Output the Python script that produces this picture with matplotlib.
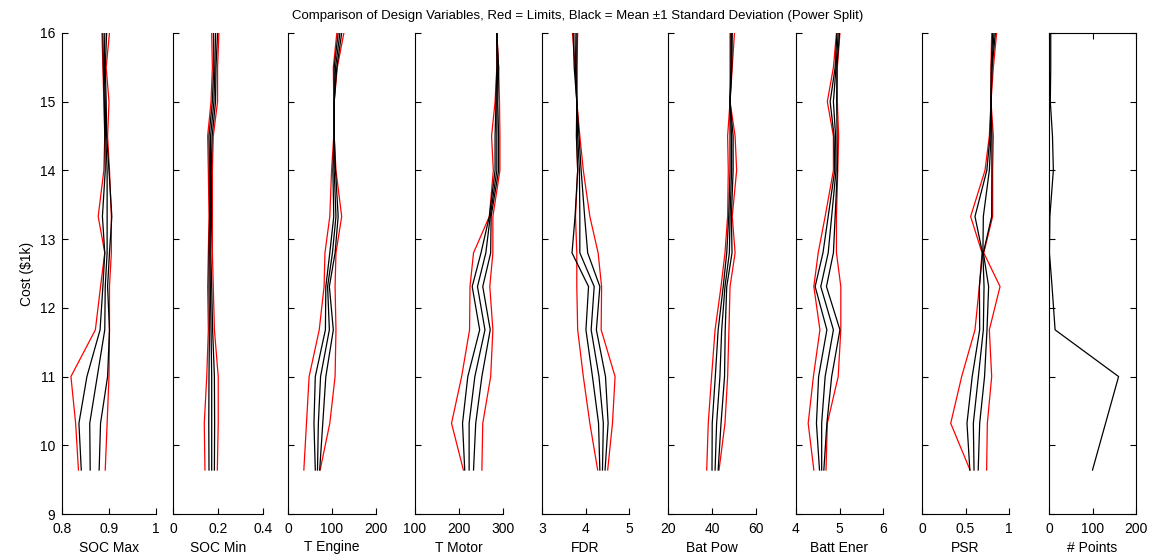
import matplotlib.pyplot as plt

plt.rcParams['font.family'] = ['Liberation Sans', 'DejaVu Sans']

# cost bins (in $1k), shared y axis
cost = [9.64, 10.32, 11.0, 11.68, 12.31, 12.8, 13.33, 14.0, 14.5, 15.0, 15.5, 16.0]

# SOC Max
soc_max_min = [0.835, 0.829, 0.819, 0.871, 0.882, 0.891, 0.877, 0.889, 0.891, 0.889, 0.887, 0.885]
soc_max_mean = [0.860, 0.859, 0.875, 0.891, 0.892, 0.896, 0.896, 0.896, 0.893, 0.892, 0.890, 0.891]
soc_max_std = [0.019, 0.023, 0.022, 0.010, 0.005, 0.005, 0.010, 0.004, 0.002, 0.002, 0.002, 0.004]
soc_max_max = [0.892, 0.896, 0.900, 0.901, 0.901, 0.905, 0.905, 0.901, 0.897, 0.900, 0.894, 0.901]

# SOC Min
soc_min_min = [0.142, 0.139, 0.150, 0.157, 0.154, 0.157, 0.160, 0.157, 0.154, 0.169, 0.175, 0.172]
soc_min_mean = [0.172, 0.172, 0.172, 0.169, 0.166, 0.164, 0.167, 0.166, 0.167, 0.182, 0.186, 0.189]
soc_min_std = [0.012, 0.013, 0.012, 0.007, 0.006, 0.004, 0.004, 0.004, 0.007, 0.007, 0.005, 0.009]
soc_min_max = [0.197, 0.201, 0.201, 0.184, 0.179, 0.175, 0.175, 0.175, 0.179, 0.198, 0.198, 0.204]

# T Engine
t_eng_min = [36, 42, 48, 71, 82, 84, 95, 99, 104, 104, 103, 111]
t_eng_mean = [67, 69, 74, 94, 90, 101, 109, 105, 105, 105, 108, 118]
t_eng_std = [5, 10, 12, 9, 4, 6, 5, 3, 0, 0, 3, 4]
t_eng_max = [73, 95, 107, 109, 107, 109, 122, 109, 105, 105, 112, 127]

# T Motor
t_mot_min = [210, 183, 206, 224, 225, 233, 269, 278, 274, 282, 286, 286]
t_mot_mean = [223, 223, 236, 259, 242, 261, 271, 286, 286, 286, 288, 286]
t_mot_std = [10, 15, 16, 12, 12, 11, 2, 4, 4, 2, 2, 0]
t_mot_max = [252, 254, 272, 277, 270, 277, 277, 293, 293, 292, 290, 286]

# FDR
fdr_min = [4.28, 4.10, 3.95, 3.82, 3.80, 3.80, 3.77, 3.82, 3.80, 3.80, 3.76, 3.70]
fdr_mean = [4.39, 4.41, 4.31, 4.13, 4.20, 3.87, 3.87, 3.86, 3.82, 3.80, 3.77, 3.76]
fdr_std = [0.06, 0.11, 0.15, 0.12, 0.13, 0.18, 0.11, 0.04, 0.03, 0.0, 0.03, 0.04]
fdr_max = [4.51, 4.62, 4.68, 4.36, 4.37, 4.29, 4.10, 3.95, 3.87, 3.80, 3.80, 3.82]

# Bat Pow
bat_pow_min = [37.6, 38.3, 39.8, 41.4, 44.1, 45.9, 47.1, 47.4, 47.1, 48.2, 48.2, 48.2]
bat_pow_mean = [41.4, 42.1, 43.6, 44.4, 45.9, 47.9, 48.2, 48.9, 48.9, 48.2, 48.8, 48.9]
bat_pow_std = [1.4, 2.0, 2.1, 1.6, 0.8, 1.2, 0.6, 0.7, 0.7, 0.0, 0.2, 0.3]
bat_pow_max = [43.2, 45.9, 47.1, 47.7, 48.2, 50.5, 49.2, 51.2, 50.5, 48.2, 49.2, 50.2]

# Batt Ener
bat_ener_min = [4.41, 4.28, 4.40, 4.55, 4.41, 4.51, 4.67, 4.86, 4.86, 4.72, 4.86, 4.93]
bat_ener_mean = [4.59, 4.59, 4.67, 4.86, 4.57, 4.74, 4.82, 4.92, 4.91, 4.86, 4.92, 4.97]
bat_ener_std = [0.05, 0.12, 0.15, 0.15, 0.13, 0.12, 0.08, 0.03, 0.035, 0.075, 0.02, 0.03]
bat_ener_max = [4.69, 4.72, 4.97, 5.03, 5.03, 4.93, 4.93, 4.96, 4.98, 4.95, 4.95, 5.01]

# PSR
psr_min = [0.552, 0.330, 0.456, 0.609, 0.659, 0.690, 0.559, 0.724, 0.774, 0.793, 0.793, 0.801]
psr_mean = [0.598, 0.590, 0.648, 0.705, 0.713, 0.700, 0.705, 0.774, 0.793, 0.793, 0.801, 0.828]
psr_std = [0.048, 0.073, 0.071, 0.042, 0.053, 0.005, 0.096, 0.029, 0.011, 0.0, 0.005, 0.015]
psr_max = [0.743, 0.751, 0.801, 0.774, 0.897, 0.710, 0.812, 0.812, 0.820, 0.793, 0.820, 0.858]

# number of designs in each cost bin
n_points = [100, 130, 160, 14, 7, 1, 2, 10, 8, 3, 4, 4]

names = ["SOC Max", "SOC Min", "T Engine", "T Motor", "FDR", "Bat Pow", "Batt Ener", "PSR"]
mins = [soc_max_min, soc_min_min, t_eng_min, t_mot_min, fdr_min, bat_pow_min, bat_ener_min, psr_min]
means = [soc_max_mean, soc_min_mean, t_eng_mean, t_mot_mean, fdr_mean, bat_pow_mean, bat_ener_mean, psr_mean]
stds = [soc_max_std, soc_min_std, t_eng_std, t_mot_std, fdr_std, bat_pow_std, bat_ener_std, psr_std]
maxs = [soc_max_max, soc_min_max, t_eng_max, t_mot_max, fdr_max, bat_pow_max, bat_ener_max, psr_max]
xticks = [[0.8, 0.9, 1], [0, 0.2, 0.4], [0, 100, 200], [100, 200, 300],
          [3, 4, 5], [20, 40, 60], [4, 5, 6], [0, 0.5, 1], [0, 100, 200]]
xtick_labels = [["0.8", "0.9", "1"], ["0", "0.2", "0.4"], ["0", "100", "200"],
                ["100", "200", "300"], ["3", "4", "5"], ["20", "40", "60"],
                ["4", "5", "6"], ["0", "0.5", "1"], ["0", "100", "200"]]
y_ticks = [9, 10, 11, 12, 13, 14, 15, 16]

W, H = 1156, 560
fig = plt.figure(figsize=(W / 100, H / 100), dpi=100)

# panel edges in pixels
lefts = [62, 173, 288, 415, 542, 668, 796, 922, 1049]
rights = [156, 263, 376, 503, 629, 756, 883, 1009, 1136]
top_px, bot_px = 33, 514

axes = []
for i in range(9):
    ax = fig.add_axes([lefts[i] / W, (H - bot_px) / H,
                       (rights[i] - lefts[i]) / W, (bot_px - top_px) / H])
    axes.append(ax)

for i, ax in enumerate(axes):
    ax.set_ylim(9, 16)
    ax.set_xlim(xticks[i][0], xticks[i][-1])
    ax.set_xticks(xticks[i])
    ax.set_xticklabels(xtick_labels[i])
    ax.set_yticks(y_ticks)
    ax.tick_params(direction="in", length=4, width=0.8, labelsize=10)
    ax.tick_params(axis="x", pad=6)
    ax.tick_params(axis="y", pad=5)
    for s in ax.spines.values():
        s.set_linewidth(0.8)
    if i < 8:
        ax.spines["top"].set_visible(False)
        ax.spines["right"].set_visible(False)
        lo = [m - s for m, s in zip(means[i], stds[i])]
        hi = [m + s for m, s in zip(means[i], stds[i])]
        ax.plot(mins[i], cost, color="red", lw=0.9)
        ax.plot(maxs[i], cost, color="red", lw=0.9)
        ax.plot(lo, cost, color="black", lw=0.9)
        ax.plot(means[i], cost, color="black", lw=0.9)
        ax.plot(hi, cost, color="black", lw=0.9)
        ax.set_xlabel(names[i], fontsize=10, labelpad=3)
    else:
        ax.plot(n_points, cost, color="black", lw=0.9)
        ax.tick_params(top=True, right=True)
        ax.set_xlabel("# Points", fontsize=10, labelpad=3)
    if i > 0:
        ax.set_yticklabels([])

axes[0].set_ylabel("Cost (\\$1k)", fontsize=10)
fig.text(0.5, 1 - 16 / H,
         "Comparison of Design Variables, Red = Limits, Black = Mean \u00b11 Standard Deviation (Power Split)",
         ha="center", va="center", fontsize=9.5)

fig.savefig("out.png", dpi=100)
